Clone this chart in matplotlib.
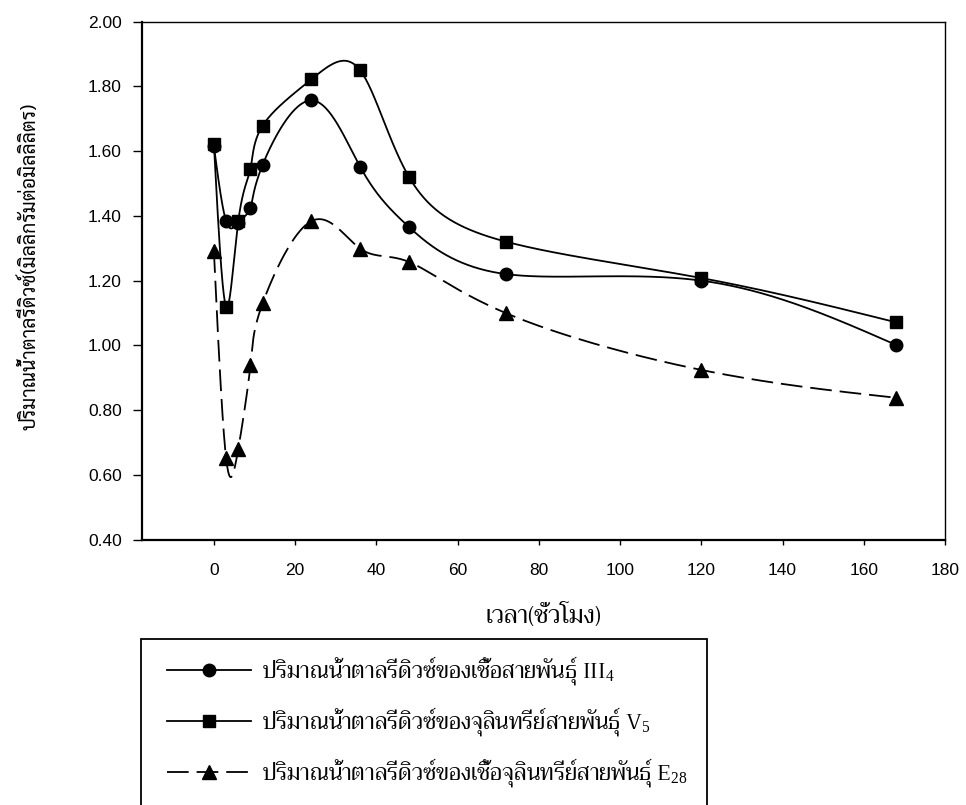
import matplotlib
matplotlib.use("Agg")
import matplotlib.pyplot as plt
import numpy as np
from matplotlib.patches import Rectangle

plt.rcParams['mathtext.fontset'] = 'custom'
plt.rcParams['mathtext.rm'] = 'Liberation Serif'
plt.rcParams['mathtext.it'] = 'Liberation Serif'

# sampling times (hours)
hours = [0, 3, 6, 9, 12, 24, 36, 48, 72, 120, 168]

# reducing sugar (mg/ml)
sugar_III4 = [1.615, 1.384, 1.379, 1.425, 1.558, 1.757, 1.552, 1.366, 1.220, 1.200, 1.001]
sugar_V5 = [1.622, 1.120, 1.384, 1.545, 1.679, 1.822, 1.850, 1.521, 1.320, 1.208, 1.071]
sugar_E28 = [1.291, 0.652, 0.680, 0.939, 1.130, 1.384, 1.299, 1.258, 1.099, 0.924, 0.838]

labels = ["ปริมาณน้ำตาลรีดิวซ์ของเชื้อสายพันธุ์ III$_4$",
          "ปริมาณน้ำตาลรีดิวซ์ของจุลินทรีย์สายพันธุ์ V$_5$",
          "ปริมาณน้ำตาลรีดิวซ์ของเชื้อจุลินทรีย์สายพันธุ์ E$_{28}$"]
xlabel = "เวลา(ชั่วโมง)"
ylabel = "ปริมาณน้ำตาลรีดิวซ์(มิลลิกรัมต่อมิลลิลิตร)"

thai_serif = ['Trirong', 'DejaVu Sans']
thai_sans = ['Sarabun', 'Noto Sans Thai Looped', 'Trirong', 'DejaVu Sans']


def natural_spline(t, v, ts):
    k = len(t)
    h = np.diff(t)
    A = np.zeros((k, k))
    r = np.zeros(k)
    A[0, 0] = A[-1, -1] = 1
    for i in range(1, k - 1):
        A[i, i - 1] = h[i - 1]
        A[i, i] = 2 * (h[i - 1] + h[i])
        A[i, i + 1] = h[i]
        r[i] = 6 * ((v[i + 1] - v[i]) / h[i] - (v[i] - v[i - 1]) / h[i - 1])
    M = np.linalg.solve(A, r)
    j = np.clip(np.searchsorted(t, ts) - 1, 0, k - 2)
    a = ts - t[j]
    b = t[j + 1] - ts
    hj = h[j]
    return (M[j] * b**3 + M[j + 1] * a**3) / (6 * hj) \
        + (v[j] / hj - M[j] * hj / 6) * b + (v[j + 1] / hj - M[j + 1] * hj / 6) * a


def spline_curve(x, y, n=1000):
    # parametric spline through the points (x and y both against point index)
    x = np.asarray(x, float)
    y = np.asarray(y, float)
    t = np.arange(len(x), dtype=float)
    ts = np.linspace(0, t[-1], n)
    return natural_spline(t, x, ts), natural_spline(t, y, ts)


fig = plt.figure(figsize=(9.66, 8.05), dpi=100)
ax = fig.add_axes([0.147, 0.3298, 0.8313, 0.6432])

series = [(sugar_III4, 'o', '-', 9), (sugar_V5, 's', '-', 8.5), (sugar_E28, '^', (0, (12, 4.4)), 9.5)]
handles = []
for (vals, mk, ls, ms), lab in zip(series, labels):
    xs, ys = spline_curve(hours, vals)
    ax.plot(xs, ys, color='black', lw=1.3, linestyle=ls)
    ax.plot(hours, vals, linestyle='none', marker=mk, ms=ms, color='black')
    h, = ax.plot([], [], color='black', lw=1.3, linestyle=ls, marker=mk, ms=ms, label=lab)
    handles.append(h)

ax.set_xlim(-17.7, 180)
ax.set_ylim(0.4, 2.0)
ax.set_xticks(np.arange(0, 181, 20))
ax.set_yticks(np.arange(0.4, 2.01, 0.2))
ax.yaxis.set_major_formatter(plt.FormatStrFormatter('%.2f'))
ax.tick_params(axis='y', direction='out', length=6.5, width=1, pad=8, labelsize=12.5)
ax.tick_params(axis='x', direction='out', length=3.6, width=1, pad=13, labelsize=12.5)
for lab in ax.get_xticklabels() + ax.get_yticklabels():
    lab.set_family('Liberation Sans')
for side in ['left', 'bottom']:
    ax.spines[side].set_linewidth(1.6)
for side in ['top', 'right']:
    ax.spines[side].set_linewidth(1.0)

ax.set_xlabel(xlabel, family=thai_serif, fontsize=17.5, labelpad=19)
fig.text(29 / 966, 1 - 266 / 805, ylabel, rotation=90, ha='center', va='center',
         family=thai_sans, fontsize=14)

# legend box below the plot, running off the bottom edge
fig.patches.append(Rectangle((141 / 966, -0.05), (707 - 141) / 966, 0.05 + 1 - 639 / 805,
                             transform=fig.transFigure, fill=False, edgecolor='black', lw=1.3))
leg = fig.legend(handles=handles, loc='upper left', bbox_to_anchor=(158 / 966, 1 - 645 / 805),
                 frameon=False, prop={'family': thai_serif, 'size': 16},
                 handlelength=3.8, handletextpad=0.5, labelspacing=0.82, borderaxespad=0)

fig.savefig('out.png', dpi=100)
